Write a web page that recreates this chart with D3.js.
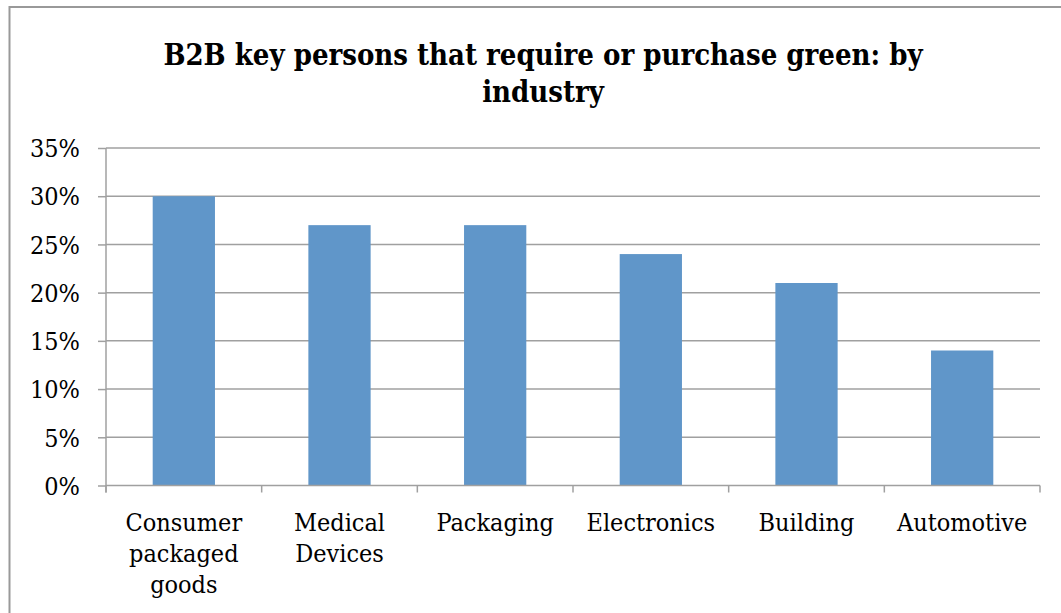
<!DOCTYPE html>
<html>
<head>
<meta charset="utf-8">
<script src="https://cdn.jsdelivr.net/npm/d3@7/dist/d3.min.js"></script>
<style>
  html, body { margin: 0; padding: 0; background: #fff; }
  svg { display: block; }
</style>
</head>
<body>
<svg id="chart" width="1061" height="613"></svg>
<script>
// Share of B2B key persons that require or purchase green products, by industry
const industries = [
  ["Consumer", "packaged", "goods"],
  ["Medical", "Devices"],
  ["Packaging"],
  ["Electronics"],
  ["Building"],
  ["Automotive"]
];
const shares = [0.30, 0.27, 0.27, 0.24, 0.21, 0.14];
const yTicks = [0, 0.05, 0.10, 0.15, 0.20, 0.25, 0.30, 0.35];
const titleLines = ["B2B key persons that require or purchase green: by", "industry"];

const W = 1061, H = 613;
const margin = { left: 106, right: 21, top: 148, bottom: 613 - 485.5 };
const serif = "'DejaVu Serif Condensed', 'DejaVu Serif', serif";
const gridColor = "#a0a0a0";
const barColor = "#6096c9";

const svg = d3.select("#chart");

// outer chart frame
svg.append("rect")
  .attr("x", 9.5).attr("y", 7)
  .attr("width", W + 20).attr("height", H + 20)
  .attr("fill", "none")
  .attr("stroke", "#999")
  .attr("stroke-width", 2);

const keys = industries.map(d => d.join(" "));
const x = d3.scaleBand()
  .domain(keys)
  .range([margin.left, W - margin.right])
  .paddingInner(0.6)
  .paddingOuter(0.3);

const y = d3.scaleLinear()
  .domain([0, 0.35])
  .range([H - margin.bottom, margin.top]);

// title
const title = svg.append("text")
  .attr("text-anchor", "middle")
  .attr("font-family", serif)
  .attr("font-weight", "bold")
  .attr("font-size", 29)
  .attr("fill", "#000");
titleLines.forEach((t, i) => {
  title.append("tspan")
    .attr("x", 543)
    .attr("y", 65 + i * 37)
    .text(t);
});

// horizontal gridlines
svg.append("g")
  .selectAll("line")
  .data(yTicks.slice(1))
  .join("line")
  .attr("x1", margin.left)
  .attr("x2", W - margin.right)
  .attr("y1", d => y(d))
  .attr("y2", d => y(d))
  .attr("stroke", gridColor)
  .attr("stroke-width", 1.5);

// y axis
const yAxis = svg.append("g")
  .attr("transform", `translate(${margin.left},0)`)
  .call(d3.axisLeft(y).tickValues(yTicks).tickFormat(d3.format(".0%")).tickSize(8).tickPadding(18));
yAxis.select(".domain").attr("stroke", gridColor).attr("stroke-width", 1.5)
  .attr("d", `M0,${y(0.35)}V${y(0) + 7}`);
yAxis.selectAll(".tick line").attr("stroke", gridColor).attr("stroke-width", 1.5);
yAxis.selectAll(".tick text")
  .attr("font-family", serif)
  .attr("font-size", 25)
  .attr("fill", "#000")
  .attr("dy", "0.35em");

// bars
svg.append("g")
  .selectAll("rect")
  .data(shares)
  .join("rect")
  .attr("x", (d, i) => x(keys[i]))
  .attr("width", x.bandwidth())
  .attr("y", d => y(d))
  .attr("height", d => y(0) - y(d))
  .attr("fill", barColor);

// x axis: baseline with ticks at category boundaries
const xg = svg.append("g");
xg.append("line")
  .attr("x1", margin.left).attr("x2", W - margin.right)
  .attr("y1", y(0)).attr("y2", y(0))
  .attr("stroke", gridColor).attr("stroke-width", 1.5);
const step = x.step();
const bounds = d3.range(keys.length + 1).map(i => margin.left + i * step);
xg.selectAll(".xtick")
  .data(bounds)
  .join("line")
  .attr("class", "xtick")
  .attr("x1", d => d).attr("x2", d => d)
  .attr("y1", y(0)).attr("y2", y(0) + 7)
  .attr("stroke", gridColor).attr("stroke-width", 1.5);

// category labels
const labels = xg.selectAll(".xlabel")
  .data(industries)
  .join("text")
  .attr("class", "xlabel")
  .attr("text-anchor", "middle")
  .attr("font-family", serif)
  .attr("font-size", 25)
  .attr("fill", "#000");
labels.each(function(lines, i) {
  const cx = x(keys[i]) + x.bandwidth() / 2;
  d3.select(this).selectAll("tspan")
    .data(lines)
    .join("tspan")
    .attr("x", cx)
    .attr("y", (d, j) => 531 + j * 31)
    .text(d => d);
});
</script>
</body>
</html>
